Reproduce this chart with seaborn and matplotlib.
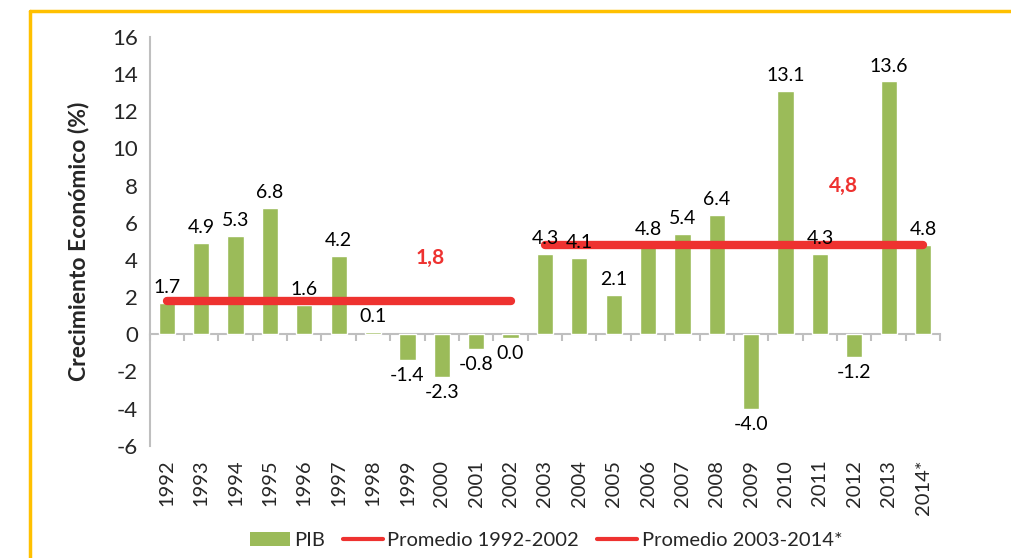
import matplotlib
matplotlib.use("Agg")
import matplotlib.pyplot as plt
import seaborn as sns
import pandas as pd
from matplotlib.patches import Patch
from matplotlib.lines import Line2D

years = ["1992", "1993", "1994", "1995", "1996", "1997", "1998", "1999", "2000", "2001", "2002",
         "2003", "2004", "2005", "2006", "2007", "2008", "2009", "2010", "2011", "2012", "2013", "2014*"]
pib = [1.7, 4.9, 5.3, 6.8, 1.6, 4.2, 0.1, -1.4, -2.3, -0.8, -0.2,
       4.3, 4.1, 2.1, 4.8, 5.4, 6.4, -4.0, 13.1, 4.3, -1.2, 13.6, 4.8]
pib_labels = ["1.7", "4.9", "5.3", "6.8", "1.6", "4.2", "0.1", "-1.4", "-2.3", "-0.8", "0.0",
              "4.3", "4.1", "2.1", "4.8", "5.4", "6.4", "-4.0", "13.1", "4.3", "-1.2", "13.6", "4.8"]
avg1_value = 1.8
avg1_range = ("1992", "2002")
avg2_value = 4.8
avg2_range = ("2003", "2014*")
avg1_text = "1,8"
avg2_text = "4,8"

sns.set_style("white")
plt.rcParams['font.family'] = ['Lato', 'DejaVu Sans']
plt.rcParams['axes.unicode_minus'] = False

green = "#9BBB59"
red = "#EE3230"

fig = plt.figure(figsize=(10.11, 5.58), dpi=100)
ax = fig.add_axes([0.148, 0.201, 0.782, 0.733])

df = pd.DataFrame({"year": years, "pib": pib})
sns.barplot(data=df, x="year", y="pib", color=green, width=0.47, ax=ax, saturation=1, zorder=2)

ax.set_ylim(-6, 16)
ax.set_xlim(-0.5, len(years) - 0.5)
ax.set_yticks(range(-6, 17, 2))

# average lines
i1, j1 = years.index(avg1_range[0]), years.index(avg1_range[1])
i2, j2 = years.index(avg2_range[0]), years.index(avg2_range[1])
ax.plot([i1, j1], [avg1_value, avg1_value], color=red, lw=6, solid_capstyle="round", zorder=3)
ax.plot([i2, j2], [avg2_value, avg2_value], color=red, lw=6, solid_capstyle="round", zorder=3)
ax.text(7.65, 4.1, avg1_text, color=red, fontsize=15, fontweight="bold", ha="center", va="center")
ax.text(19.7, 8.0, avg2_text, color=red, fontsize=15, fontweight="bold", ha="center", va="center")

# data labels
for i, (v, lab) in enumerate(zip(pib, pib_labels)):
    if v >= 0:
        ax.annotate(lab, (i, v), xytext=(0, 5), textcoords="offset points",
                    ha="center", va="bottom", fontsize=14, color="black", zorder=4)
    else:
        ax.annotate(lab, (i, v), xytext=(0, -5), textcoords="offset points",
                    ha="center", va="top", fontsize=14, color="black", zorder=4)

# spines / ticks
for s in ["top", "right", "bottom"]:
    ax.spines[s].set_visible(False)
ax.spines["left"].set_color("#BFBFBF")
ax.spines["left"].set_linewidth(1.5)
ax.tick_params(axis="y", direction="out", length=5, color="#BFBFBF", width=1.5, labelsize=16)
ax.tick_params(axis="x", length=0, labelsize=14.5, rotation=90, pad=10)
for t in ax.get_xticklabels():
    t.set_va("top")

sec = ax.secondary_xaxis(6 / 22)
sec.set_xticks([k - 0.5 for k in range(len(years) + 1)])
sec.set_xticklabels([])
sec.tick_params(direction="out", length=5, color="#BFBFBF", width=1.5)
sec.spines["bottom"].set_color("#BFBFBF")
sec.spines["bottom"].set_linewidth(1.5)
sec.set_zorder(1)

ax.set_xlabel("")
ax.set_ylabel("Crecimiento Económico (%)", fontsize=16.5, fontweight="bold", labelpad=16)

handles = [Patch(facecolor=green, edgecolor="none"),
           Line2D([0], [0], color=red, lw=3),
           Line2D([0], [0], color=red, lw=3)]
fig.legend(handles, ["PIB", "Promedio 1992-2002", "Promedio 2003-2014*"],
           loc="center", bbox_to_anchor=(0.54, 0.032), ncol=3, frameon=False,
           fontsize=14.5, handlelength=2.0, handletextpad=0.2, columnspacing=0.9)

# yellow frame
gold = "#FFC000"
fig.add_artist(Line2D([30 / 1011, 1.0], [1 - 11 / 558, 1 - 11 / 558], color=gold, lw=2.5,
                      transform=fig.transFigure))
fig.add_artist(Line2D([30 / 1011, 30 / 1011], [1 - 11 / 558, 0], color=gold, lw=2.5,
                      transform=fig.transFigure))

fig.savefig("out.png", dpi=100)
